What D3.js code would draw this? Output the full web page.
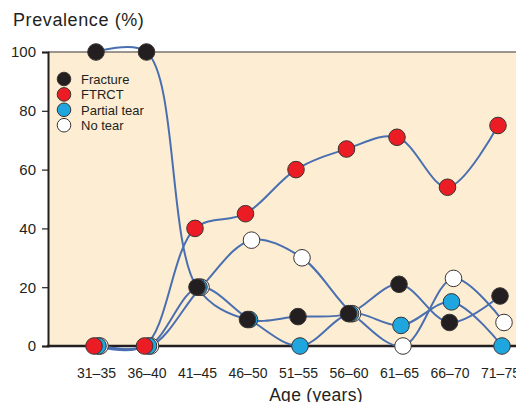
<!DOCTYPE html>
<html>
<head>
<meta charset="utf-8">
<script src="https://cdn.jsdelivr.net/npm/d3@7"></script>
<style>
  body { margin: 0; background: #fff; }
  text { font-family: "Liberation Sans", Arial, sans-serif; fill: #231f20; }
</style>
</head>
<body>
<script>
var ages = ["31–35", "36–40", "41–45", "46–50", "51–55", "56–60", "61–65", "66–70", "71–75"];
var yTicks = [0, 20, 40, 60, 80, 100];

var fracture = [100, 100, 20, 9, 10, 11, 21, 8, 17];
var ftrct = [0, 0, 40, 45, 60, 67, 71, 54, 75];
var partialTear = [0, 0, 20, 9, 0, 11, 7, 15, 0];
var noTear = [0, 0, 20, 36, 30, 11, 0, 23, 8];

// drawing order: back to front
var series = [
  {name: "No tear", values: noTear, color: "#ffffff", dx: 4},
  {name: "Partial tear", values: partialTear, color: "#1fa6df", dx: 2},
  {name: "Fracture", values: fracture, color: "#231f20", dx: 0},
  {name: "FTRCT", values: ftrct, color: "#ec1c24", dx: -2}
];
var legendOrder = ["Fracture", "FTRCT", "Partial tear", "No tear"];

var svg = d3.select("body")
  .append("svg")
  .attr("width", 516)
  .attr("height", 402);

var x = d3.scalePoint().domain(ages).range([96, 500]);
var y = d3.scaleLinear().domain([0, 100]).range([346, 52]);

// plot background
svg.append("rect")
  .attr("x", 48)
  .attr("y", y(100))
  .attr("width", 516 - 48)
  .attr("height", y(0) - y(100))
  .attr("fill", "#fdeed3");

svg.append("line")
  .attr("x1", 48).attr("x2", 516)
  .attr("y1", y(100)).attr("y2", y(100))
  .attr("stroke", "#7a7470")
  .attr("stroke-width", 1.3);

// y axis
var yAxis = svg.append("g")
  .attr("transform", "translate(48,0)")
  .call(d3.axisLeft(y).tickValues(yTicks).tickSize(6).tickPadding(6));
yAxis.select(".domain").attr("stroke", "#231f20").attr("stroke-width", 2);
yAxis.selectAll(".tick line").attr("stroke", "#231f20").attr("stroke-width", 1.2);
yAxis.selectAll(".tick text")
  .attr("font-size", 15)
  .attr("font-family", "Liberation Sans, Arial, sans-serif")
  .attr("fill", "#231f20");

// x axis
var xAxis = svg.append("g")
  .attr("transform", "translate(0," + y(0) + ")")
  .call(d3.axisBottom(x).tickSize(0).tickPadding(22));
xAxis.select(".domain").remove();
xAxis.selectAll(".tick text")
  .attr("font-size", 14)
  .attr("font-family", "Liberation Sans, Arial, sans-serif")
  .attr("fill", "#231f20");

svg.append("line")
  .attr("x1", 47).attr("x2", 516)
  .attr("y1", y(0)).attr("y2", y(0))
  .attr("stroke", "#231f20")
  .attr("stroke-width", 2.5);

// titles
svg.append("text")
  .attr("x", 13).attr("y", 26)
  .attr("font-size", 18)
  .attr("letter-spacing", 0.6)
  .text("Prevalence (%)");

svg.append("text")
  .attr("x", 316).attr("y", 401)
  .attr("text-anchor", "middle")
  .attr("font-size", 17.5)
  .attr("letter-spacing", 0.3)
  .text("Age (years)");

// lines
var line = d3.line()
  .x(function (d) { return d[0]; })
  .y(function (d) { return d[1]; })
  .curve(d3.curveCatmullRom.alpha(0.5));

series.forEach(function (s) {
  var pts = s.values.map(function (v, i) { return [x(ages[i]) + s.dx, y(v)]; });
  svg.append("path")
    .attr("d", line(pts))
    .attr("fill", "none")
    .attr("stroke", "#4a6fb0")
    .attr("stroke-width", 2);
});

// points
series.forEach(function (s) {
  svg.append("g")
    .selectAll("circle")
    .data(s.values)
    .join("circle")
    .attr("cx", function (d, i) { return x(ages[i]) + s.dx; })
    .attr("cy", function (d) { return y(d); })
    .attr("r", 8.3)
    .attr("fill", s.color)
    .attr("stroke", "#3a3433")
    .attr("stroke-width", 1);
});

// legend
var legend = svg.append("g").attr("transform", "translate(64,79)");
legendOrder.forEach(function (name, i) {
  var s = series.find(function (d) { return d.name === name; });
  legend.append("circle")
    .attr("cx", 0).attr("cy", i * 15.4)
    .attr("r", 6.8)
    .attr("fill", s.color)
    .attr("stroke", "#3a3433")
    .attr("stroke-width", 1);
  legend.append("text")
    .attr("x", 17).attr("y", i * 15.4 + 4.7)
    .attr("font-size", 13)
    .text(name);
});
</script>
</body>
</html>
